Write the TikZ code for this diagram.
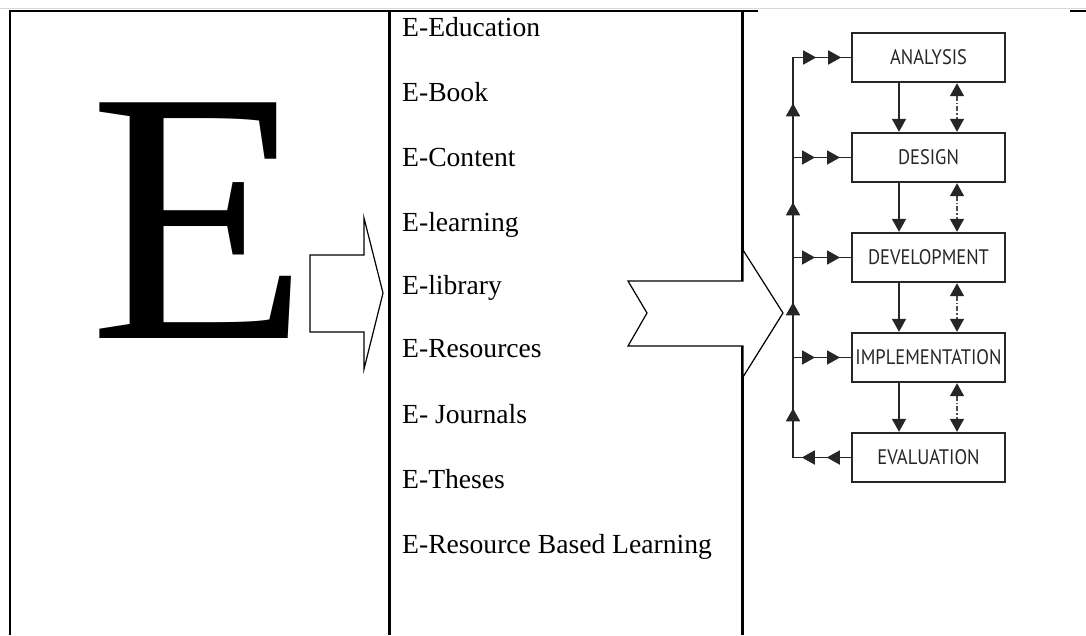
\documentclass[tikz,border=0pt]{standalone}
\usepackage{fontspec}
\setmainfont{Liberation Serif}
\newfontfamily\addiefont[FakeStretch=0.88]{PT Sans}
\usetikzlibrary{arrows.meta,decorations.markings}
\tikzset{>={Triangle[length=13pt,width=14pt]}}
\tikzset{
  item/.style={anchor=base west,inner sep=0pt,font=\fontsize{27.6}{30}\selectfont},
  phase/.style={draw=black!85,line width=2.4pt,minimum width=153pt,minimum height=49pt,inner sep=0pt,text=black!85,font=\addiefont\fontsize{21}{22}\selectfont},
  flow/.style={->,line width=1.8pt,draw=black!85},
  revise/.style={{Triangle[length=13pt,width=14pt,black!85]}-{Triangle[length=13pt,width=14pt,black!85]},
    line width=1.4pt,draw=black!70,dash pattern=on 5pt off 2pt on 1.5pt off 2pt},
  feed/.style={line width=1.8pt,draw=black!85,postaction={decorate},
    decoration={markings,mark=at position 22pt with {\arrow{>}},mark=at position 47pt with {\arrow{>}}}},
  feedback/.style={line width=1.8pt,draw=black!85,line join=miter,postaction={decorate},
    decoration={markings,mark=at position 24pt with {\arrow{>}},mark=at position 49pt with {\arrow{>}},
      mark=at position 107pt with {\arrow{>}},mark=at position 213pt with {\arrow{>}},
      mark=at position 313pt with {\arrow{>}},mark=at position 412pt with {\arrow{>}},
      mark=at position 481pt with {\arrow{>}},mark=at position 506pt with {\arrow{>}}}},
  cellline/.style={line width=3pt},
  blockarrow/.style={draw,fill=white,line width=1.2pt,line join=miter}
}

\begin{document}
\begin{tikzpicture}[x=1pt,y=-1pt]
\useasboundingbox (0,0) rectangle (1086,635);

% table rules
\draw[gray!30,line width=0.8pt] (0,8) -- (1086,8);
\draw[line width=2.5pt] (9,11) -- (758,11);
\draw[line width=2.5pt] (1070,11) -- (1086,11);
\draw[line width=1.5pt] (10,11) -- (10,635);
\draw[cellline] (389,11) -- (389,635);
\draw[cellline] (742,11) -- (742,635);

% big letter
\node[anchor=base west,inner sep=0pt,font=\fontsize{360}{360}\selectfont] (bigE) at (89,338) {E};

% list of e-items
\foreach \txt/\yb [count=\i] in {E-Education/36,E-Book/101,E-Content/166,E-learning/231,E-library/294,E-Resources/357,E- Journals/423,E-Theses/488,E-Resource Based Learning/553}
  \node[item] (item\i) at (402,\yb) {\txt};

% block arrows
\draw[blockarrow] (310,255) -- (364,255) -- (364,218) -- (383,293) -- (364,369) -- (364,332) -- (310,332) -- cycle;
\draw[blockarrow] (628,281) -- (743,281) -- (743,250) -- (783,313) -- (743,377) -- (743,346) -- (628,346) -- (647,313) -- cycle;

% ADDIE
\node[phase] (ana) at (928.5,57.5) {ANALYSIS};
\node[phase] (des) at (928.5,157.5) {DESIGN};
\node[phase] (dev) at (928.5,257.5) {DEVELOPMENT};
\node[phase] (imp) at (928.5,357.5) {IMPLEMENTATION};
\node[phase] (eva) at (928.5,457.5) {EVALUATION};
\coordinate (fb) at (793,0);

\foreach \a/\b in {ana/des,des/dev,dev/imp,imp/eva}{
  \draw[flow] ([xshift=-29.5pt]\a.south) -- ([xshift=-29.5pt]\b.north);
  \draw[revise] ([xshift=28.5pt]\a.south) -- ([xshift=28.5pt]\b.north);
}
\foreach \n in {des,dev,imp}
  \draw[feed] (fb |- \n.west) -- (\n.west);
\draw[feedback] (eva.west) -- (fb |- eva.west) -- (fb |- ana.west) -- (ana.west);

\end{tikzpicture}
\end{document}
